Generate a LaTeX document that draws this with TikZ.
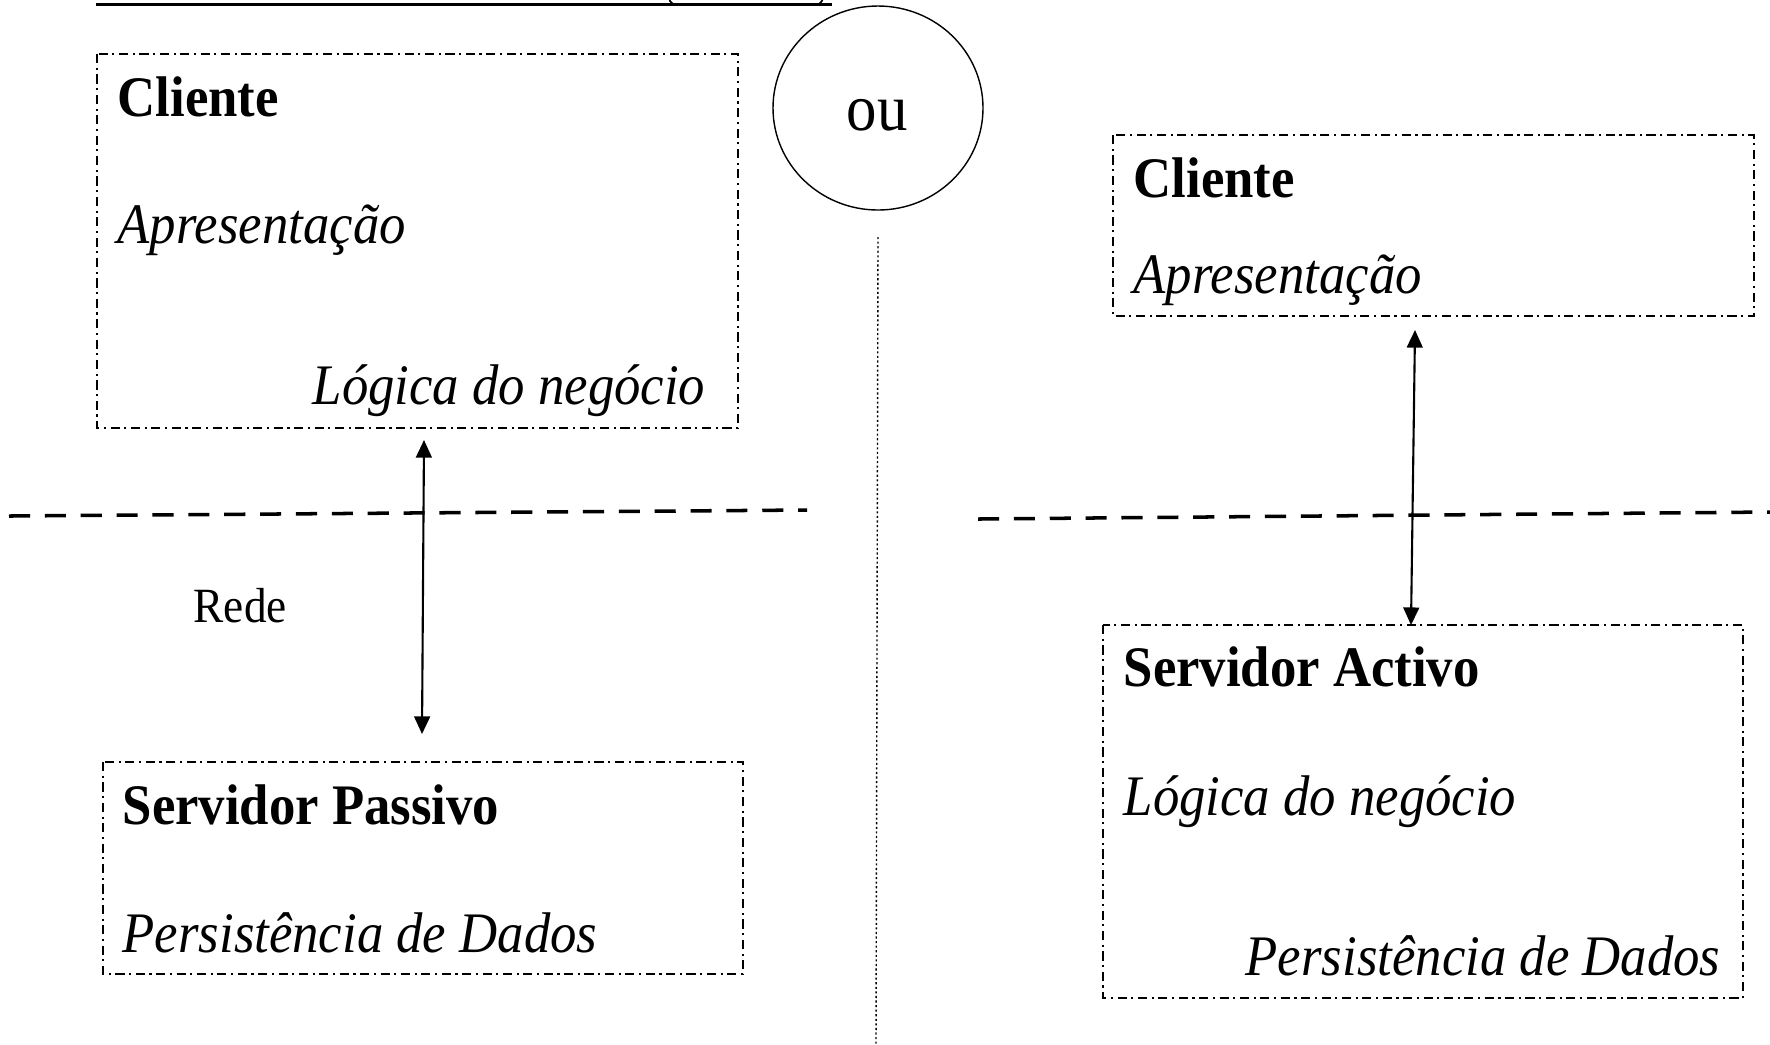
\documentclass[tikz,border=0pt]{standalone}
\usepackage{fontspec}
\setmainfont[FakeStretch=0.92]{Liberation Serif}
\usetikzlibrary{arrows.meta}

\tikzset{
	layerbox/.style={line width=0.45pt, dash pattern=on 2.6pt off 1.3pt on 0.6pt off 1.3pt},
	netline/.style={line width=1pt, dash pattern=on 6pt off 4.2pt},
	linkarrow/.style={line width=0.6pt, {Triangle[length=5pt,width=4.5pt]}-{Triangle[length=5pt,width=4.5pt]}},
	tiername/.style={inner sep=0pt, anchor=base west, font=\fontsize{16.3}{19}\selectfont\bfseries},
	tierpart/.style={inner sep=0pt, font=\fontsize{16.3}{19}\selectfont\itshape}
}

\begin{document}
\begin{tikzpicture}[x=0.01cm, y=-0.01cm]
		%%%%% START %%%%%
		\useasboundingbox (0, 0) rectangle (1770, 1044);
		
		% cut-off shape at the top
		\draw[line width=0.85pt] (96, 4) -- (832, 4);
		\draw[line width=0.5pt] (669, -2) .. controls (670, 3) and (673, 5) .. (679, 5);
		\draw[line width=0.5pt] (816, 5) .. controls (820, 4) and (822, 2) .. (823, -2);
		
		% separator
		\draw (878, 108) ellipse (105 and 102);
		\node[inner sep=0pt, anchor=base, font=\fontsize{18.8}{22}\selectfont] (ou) at (877, 130) {ou};
		\draw[line width=0.4pt, dash pattern=on 0.6pt off 0.7pt] (878, 237) -- (876, 1044);
		
		%%% left: passive server %%%
		\draw[layerbox] (97, 54) rectangle (738, 428);
		\node[tiername] (cliA) at (117, 116) {Cliente};
		\node[tierpart, anchor=base west] (apA) at (117, 243) {Apresentação};
		\node[tierpart, anchor=base east] (lgA) at (706, 404) {Lógica do negócio};
		
		\draw[netline] (9, 516) -- (807, 510);
		\node[inner sep=0pt, anchor=base west, font=\fontsize{14}{16}\selectfont] (rede) at (193, 622) {Rede};
		
		\draw[layerbox] (103, 762) rectangle (743, 974);
		\node[tiername] (srvP) at (122, 824) {Servidor Passivo};
		\node[tierpart, anchor=base west] (pdA) at (122, 952) {Persistência de Dados};
		
		\coordinate (cliAout) at (424, 440);
		\coordinate (srvPin) at (422, 734);
		\draw[linkarrow] (cliAout) -- (srvPin);
		
		%%% right: active server %%%
		\draw[layerbox] (1113, 135) rectangle (1754, 316);
		\node[tiername] (cliB) at (1133, 197) {Cliente};
		\node[tierpart, anchor=base west] (apB) at (1133, 293) {Apresentação};
		
		\draw[netline] (978, 519) -- (1770, 512);
		
		\draw[layerbox] (1103, 625) rectangle (1743, 998);
		\node[tiername] (srvA) at (1123, 686) {Servidor Activo};
		\node[tierpart, anchor=base west] (lgB) at (1123, 815) {Lógica do negócio};
		\node[tierpart, anchor=base east] (pdB) at (1721, 975) {Persistência de Dados};
		
		\coordinate (cliBout) at (1415, 330);
		\coordinate (srvAin) at (1411, 625);
		\draw[linkarrow] (cliBout) -- (srvAin);
		
		%%%%% END %%%%%
\end{tikzpicture}
\end{document}
